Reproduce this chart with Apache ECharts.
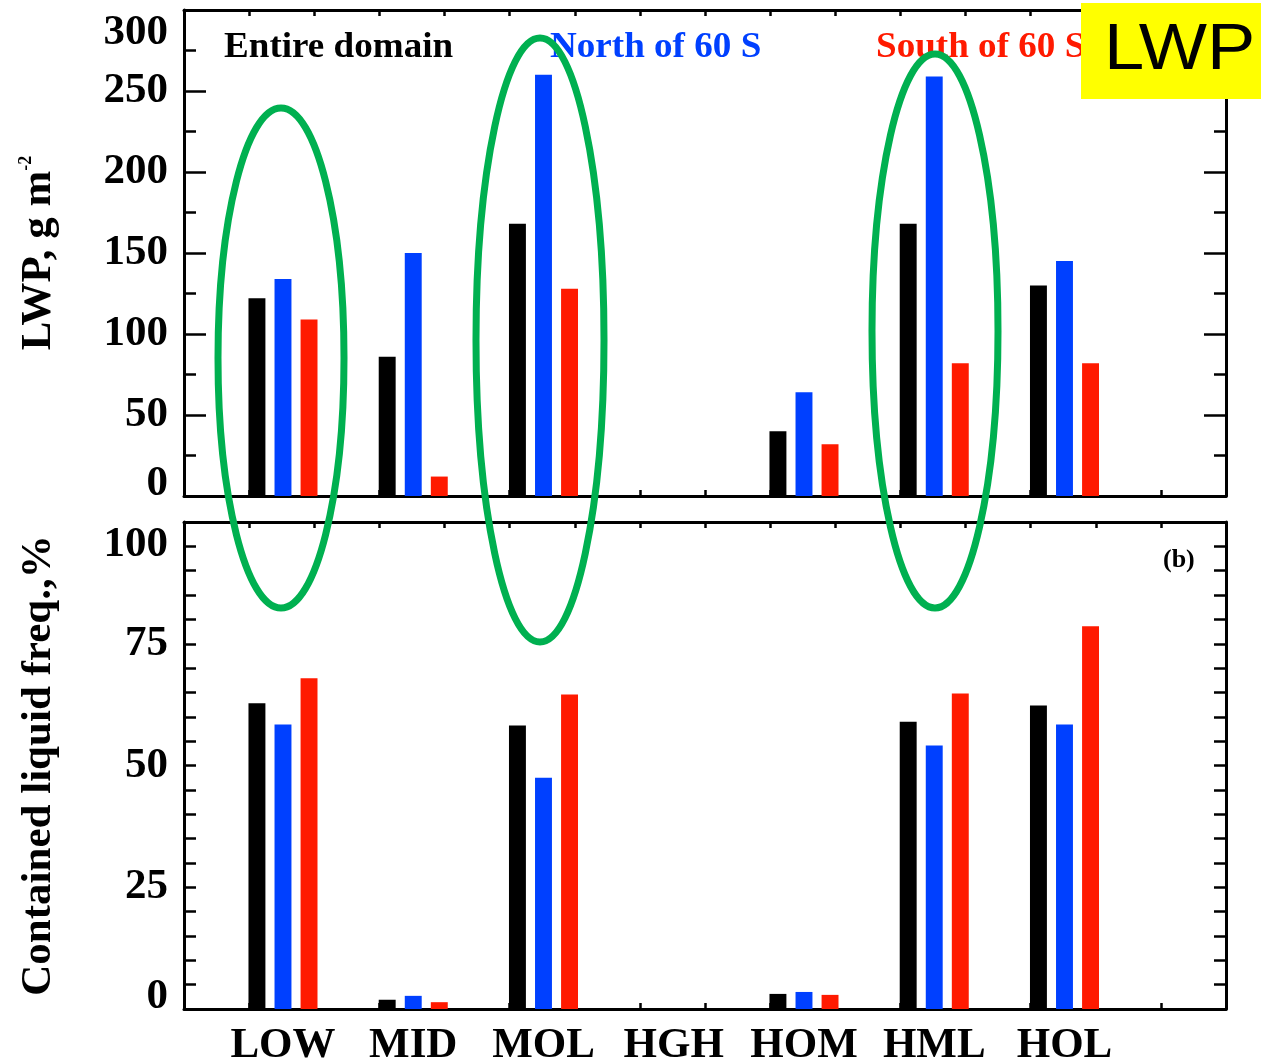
<!DOCTYPE html>
<html>
<head>
<meta charset="utf-8">
<script src="https://cdn.jsdelivr.net/npm/echarts@6/dist/echarts.min.js"></script>
<style>
  html, body { margin: 0; padding: 0; background: #fff; }
  #chart { width: 1261px; height: 1063px; }
</style>
</head>
<body>
<div id="chart"></div>
<script>
// Cloud-type categories along the x axis
const categories = ['LOW', 'MID', 'MOL', 'HGH', 'HOM', 'HML', 'HOL'];
const regions = ['Entire domain', 'North of 60 S', 'South of 60 S'];
const regionColors = ['#000000', '#0040ff', '#ff1a00'];

// (a) liquid water path, g m^-2
const lwpEntire = [122, 86, 168, 0, 40, 168, 130];
const lwpNorth  = [134, 150, 260, 0, 64, 259, 145];
const lwpSouth  = [109, 12, 128, 0, 32, 82, 82];

// (b) frequency of cloud containing liquid, %
const freqEntire = [62.8, 1.9, 58.2, 0, 3.1, 59.0, 62.3];
const freqNorth  = [58.4, 2.7, 47.5, 0, 3.5, 54.1, 58.4];
const freqSouth  = [67.9, 1.4, 64.6, 0, 2.9, 64.8, 78.6];

// axis ranges / tick spacing
const lwpRange = [0, 300], lwpStep = 50;
const freqRange = [0, 100], freqStep = 25;
const xRange = [0, 8], xStep = 0.5;

// group centre of each category on the x scale, and per-region offset
const groupPos = categories.map((c, i) => i + 0.76);
const regionOffset = [-0.2, 0, 0.2];
const barUnits = 0.13;

const SERIF = '"Liberation Serif", "Times New Roman", serif';

const chart = echarts.init(document.getElementById('chart'), null, { renderer: 'canvas' });

function barRenderer(offset, color) {
  return function (params, api) {
    const x = api.value(0) + offset;
    const v = api.value(1);
    if (!v) return null;
    const top = api.coord([x, v]);
    const base = api.coord([x, 0]);
    const w = api.size([barUnits, 0])[0];
    return {
      type: 'rect',
      shape: { x: top[0] - w / 2, y: top[1], width: w, height: base[1] - top[1] },
      style: { fill: color }
    };
  };
}

const lineStyle = { color: '#000', width: 3 };
const tickStyle = { color: '#000', width: 2.5 };

function xAxisDef(gridIndex, position, withLabels) {
  return {
    type: 'value', gridIndex, position,
    min: xRange[0], max: xRange[1], interval: xStep,
    axisLine: { show: true, onZero: false, lineStyle },
    axisTick: { show: true, inside: true, length: 6, lineStyle: tickStyle },
    splitLine: { show: false },
    axisLabel: withLabels ? {
      show: true,
      customValues: groupPos,
      formatter: v => categories[Math.round(v - 0.76)],
      fontFamily: SERIF, fontWeight: 'bold', fontSize: 43, color: '#000', margin: 15
    } : { show: false }
  };
}

function yLabel(v, lo, hi) {
  if (v === hi) return '{hi|' + v + '}';
  if (v === lo) return '{lo|' + v + '}';
  return '' + v;
}

function yAxisDef(gridIndex, position, range, step, majorLen, minorSplit, minorLen, withLabels, name) {
  const labelFont = { fontFamily: SERIF, fontWeight: 'bold', fontSize: 43, color: '#000' };
  return {
    type: 'value', gridIndex, position,
    min: range[0], max: range[1], interval: step,
    axisLine: { show: true, onZero: false, lineStyle },
    axisTick: { show: true, inside: true, length: majorLen, lineStyle: tickStyle },
    minorTick: { show: true, splitNumber: minorSplit, length: minorLen, lineStyle: tickStyle },
    splitLine: { show: false },
    axisLabel: withLabels ? Object.assign({
      show: true, margin: 16,
      formatter: v => yLabel(v, range[0], range[1]),
      rich: {
        hi: Object.assign({ padding: [46, 0, 0, 0] }, labelFont),
        lo: Object.assign({ padding: [0, 0, 24, 0] }, labelFont)
      }
    }, labelFont) : { show: false },
    name: name || '',
    nameLocation: 'middle',
    nameRotate: 90,
    nameGap: 124,
    nameTextStyle: {
      fontFamily: SERIF, fontWeight: 'bold', fontSize: 43, color: '#000',
      rich: {
        m: { fontFamily: SERIF, fontWeight: 'bold', fontSize: 43, color: '#000' },
        s: { fontFamily: SERIF, fontWeight: 'bold', fontSize: 18, color: '#000', verticalAlign: 'top' }
      }
    }
  };
}

function barSeries(values, r, xi, yi) {
  return {
    type: 'custom',
    name: regions[r],
    xAxisIndex: xi, yAxisIndex: yi,
    renderItem: barRenderer(regionOffset[r], regionColors[r]),
    encode: { x: 0, y: 1 },
    data: values.map((v, i) => [groupPos[i], v]),
    z: 5
  };
}

function keyText(r, x) {
  return {
    type: 'text', x: x, y: 48, scaleX: 1.06, z: 80,
    style: {
      text: regions[r], fill: regionColors[r], fontFamily: SERIF, fontWeight: 'bold',
      fontSize: 35, verticalAlign: 'middle', align: 'left'
    }
  };
}

const gridLeft = 184, gridWidth = 1042;

const option = {
  backgroundColor: '#fff',
  animation: false,
  grid: [
    { left: gridLeft, top: 10, width: gridWidth, height: 486, outerBoundsMode: 'none', containLabel: false },
    { left: gridLeft, top: 522, width: gridWidth, height: 487, outerBoundsMode: 'none', containLabel: false }
  ],
  xAxis: [
    xAxisDef(0, 'bottom', false),
    xAxisDef(0, 'top', false),
    xAxisDef(1, 'bottom', true),
    xAxisDef(1, 'top', false)
  ],
  yAxis: [
    yAxisDef(0, 'left', lwpRange, lwpStep, 22, 2, 12, true, '{m|LWP, g m}{s|-2}'),
    yAxisDef(0, 'right', lwpRange, lwpStep, 22, 2, 12, false),
    yAxisDef(1, 'left', freqRange, freqStep, 12, 5, 12, true, 'Contained liquid freq.,%'),
    yAxisDef(1, 'right', freqRange, freqStep, 12, 5, 12, false)
  ],
  series: [
    barSeries(lwpEntire, 0, 0, 0),
    barSeries(lwpNorth, 1, 0, 0),
    barSeries(lwpSouth, 2, 0, 0),
    barSeries(freqEntire, 0, 2, 2),
    barSeries(freqNorth, 1, 2, 2),
    barSeries(freqSouth, 2, 2, 2)
  ],
  graphic: [
    // region key across the top panel
    keyText(0, 224),
    keyText(1, 550),
    keyText(2, 876),
    // panel tag
    { type: 'text', x: 1163, y: 560, z: 80,
      style: { text: '(b)', fill: '#000', fontFamily: SERIF, fontWeight: 'bold', fontSize: 26,
               verticalAlign: 'middle', align: 'left' } },
    // highlighted groups
    { type: 'ellipse', z: 100, shape: { cx: 281, cy: 358, rx: 63, ry: 250 },
      style: { fill: 'none', stroke: '#00b050', lineWidth: 7 } },
    { type: 'ellipse', z: 100, shape: { cx: 540, cy: 340, rx: 64, ry: 302 },
      style: { fill: 'none', stroke: '#00b050', lineWidth: 7 } },
    { type: 'ellipse', z: 100, shape: { cx: 935, cy: 331, rx: 63, ry: 277 },
      style: { fill: 'none', stroke: '#00b050', lineWidth: 7 } },
    // variable badge
    { type: 'rect', z: 90, shape: { x: 1081, y: 3, width: 180, height: 96 },
      style: { fill: '#ffff00' } },
    { type: 'text', x: 1104, y: 51, scaleX: 1.13, z: 91,
      style: { text: 'LWP', fill: '#000', fontFamily: '"Liberation Sans", Arial, sans-serif',
               fontSize: 64, verticalAlign: 'middle', align: 'left' } }
  ]
};

chart.setOption(option);
</script>
</body>
</html>
